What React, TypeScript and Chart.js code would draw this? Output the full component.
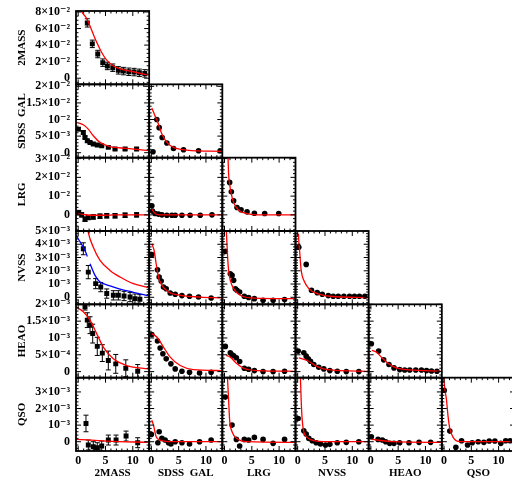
import { useEffect, useRef } from "react";
import { Chart, registerables } from "chart.js";

Chart.register(...registerables);

const FONT = "'Liberation Serif', 'DejaVu Serif', serif";

const SURVEYS = ["2MASS", "SDSS  GAL", "LRG", "NVSS", "HEAO", "QSO"];

const X_MIN = -0.4;
const X_MAX = 13;
const X_TICKS = [0, 5, 10];
const X_TICK_LABELS = ["0", "5", "10"];

const Y_MIN = [-0.0074, -0.0015, -0.0086, -0.00053, -0.00018, -0.00056];
const Y_MAX = [0.0812, 0.0206, 0.0305, 0.005, 0.002, 0.00386];
const Y_MAJOR = [0.02, 0.005, 0.01, 0.001, 0.0005, 0.001];
const Y_MINOR = [0.005, 0.001, 0.002, 0.0002, 0.0001, 0.0002];

const Y_TICKS_2MASS = [0, 0.02, 0.04, 0.06, 0.08];
const Y_LABELS_2MASS = ["0", "2×10⁻²", "4×10⁻²", "6×10⁻²", "8×10⁻²"];
const Y_TICKS_SDSS = [0, 0.005, 0.01, 0.015, 0.02];
const Y_LABELS_SDSS = ["0", "5×10⁻³", "10⁻²", "1.5×10⁻²", "2×10⁻²"];
const Y_TICKS_LRG = [0, 0.01, 0.02, 0.03];
const Y_LABELS_LRG = ["0", "10⁻²", "2×10⁻²", "3×10⁻²"];
const Y_TICKS_NVSS = [0, 0.001, 0.002, 0.003, 0.004, 0.005];
const Y_LABELS_NVSS = ["0", "10⁻³", "2×10⁻³", "3×10⁻³", "4×10⁻³", "5×10⁻³"];
const Y_TICKS_HEAO = [0, 0.0005, 0.001, 0.0015, 0.002];
const Y_LABELS_HEAO = ["0", "5×10⁻⁴", "10⁻³", "1.5×10⁻³", "2×10⁻³"];
const Y_TICKS_QSO = [0, 0.001, 0.002, 0.003];
const Y_LABELS_QSO = ["0", "10⁻³", "2×10⁻³", "3×10⁻³"];

const Y_TICKS = [Y_TICKS_2MASS, Y_TICKS_SDSS, Y_TICKS_LRG, Y_TICKS_NVSS, Y_TICKS_HEAO, Y_TICKS_QSO];
const Y_LABELS = [Y_LABELS_2MASS, Y_LABELS_SDSS, Y_LABELS_LRG, Y_LABELS_NVSS, Y_LABELS_HEAO, Y_LABELS_QSO];

// ---- data: points [angle, w, error], model curves [angle, w] ----
const PTS_2MASS_2MASS = [[1.67, 0.0668, 0.005], [2.59, 0.0415, 0.0045], [3.58, 0.0292, 0.0045], [4.5, 0.0188, 0.0045], [5.34, 0.0148, 0.0045], [6.33, 0.0127, 0.0045], [7.36, 0.0095, 0.0045], [8.28, 0.0086, 0.0045], [9.27, 0.0078, 0.0045], [10.24, 0.0074, 0.0045], [11.2, 0.0065, 0.0045], [12.2, 0.0058, 0.0045]];
const FIT_2MASS_2MASS = [[0.2, 0.088], [0.64, 0.0804], [1.56, 0.0722], [2.48, 0.0578], [3.39, 0.0434], [4.31, 0.0311], [5.23, 0.0218], [6.46, 0.0148], [7.67, 0.0114], [10.1, 0.0078], [12.9, 0.0037]];

const PTS_SDSS_2MASS = [[0.05, 0.0071, 0.0005], [0.94, 0.0061, 0.0005], [1.25, 0.0046, 0.0004], [1.67, 0.0036, 0.0004], [2.17, 0.0031, 0.0003], [2.77, 0.0026, 0.0003], [3.5, 0.0023, 0.0003], [4.31, 0.0021, 0.0003], [5.52, 0.0016, 0.0003], [6.75, 0.0011, 0.0003], [8.59, 0.0011, 0.0003], [10.7, 0.0011, 0.0003]];
const FIT_SDSS_2MASS = [[0.02, 0.009], [0.94, 0.0084], [1.85, 0.0071], [2.77, 0.0051], [4.0, 0.0031], [5.83, 0.0018], [8.9, 0.0013], [12.9, 0.0006]];

const PTS_SDSS_SDSS = [[0.3, 0.0003], [1.0, 0.01], [1.43, 0.00755], [1.98, 0.00457], [2.84, 0.0029], [4.06, 0.00128], [5.89, 0.0009], [8.64, 0.0006], [12.6, 0.0006]];
const FIT_SDSS_SDSS = [[0.09, 0.0135], [0.7, 0.011], [1.3, 0.0086], [1.93, 0.0056], [2.84, 0.0031], [4.06, 0.0016], [6.5, 0.0008], [12.9, 0.0004]];

const PTS_LRG_2MASS = [[0.1, 0.0012, 0.0012], [0.64, 0.0, 0.0012], [1.25, -0.0023, 0.0012], [1.85, -0.0014, 0.0012], [2.77, -0.0011, 0.0012], [4.0, -0.0007, 0.0012], [5.23, -0.0005, 0.0012], [6.75, -0.0005, 0.0012], [8.59, -0.0002, 0.0012], [10.7, 0.0, 0.0012]];
const FIT_LRG_2MASS = [[0.0, 0.0005], [1.0, 0.0003], [2.0, -0.0002], [4.0, -0.0002], [7.0, 0.0], [13, 0.0]];

const PTS_LRG_SDSS = [[0.09, 0.0048], [0.2, 0.0021], [0.7, 0.0007], [1.3, 0.0004], [1.93, 0.0], [2.84, -0.0002], [3.76, -0.0002], [4.37, -0.0002], [5.6, -0.0002], [7.1, -0.0002], [8.95, -0.0002], [11.1, 0.0]];
const FIT_LRG_SDSS = [[0.09, 0.003], [0.7, 0.0007], [1.5, 0.0], [13, 0.0]];

const PTS_LRG_LRG = [[0.94, 0.0173], [1.25, 0.0123], [1.67, 0.0075], [2.29, 0.0039], [3.03, 0.0027], [4.13, 0.0016], [5.47, 0.0009], [7.36, 0.0007], [9.93, 0.0007]];
const FIT_LRG_LRG = [[0.55, 0.035], [0.64, 0.0306], [0.75, 0.0218], [0.94, 0.0164], [1.25, 0.011], [1.67, 0.0066], [2.59, 0.0025], [4.13, 0.0007], [6.0, 0.0], [13, 0.0]];

const PTS_NVSS_2MASS = [[0.94, 0.00366, 0.00045], [1.85, 0.0019, 0.0005], [3.2, 0.00103, 0.00038], [4.13, 0.00077, 0.00035], [5.23, 0.00028, 0.00035], [6.44, 0.00015, 0.00035], [7.36, 0.00015, 0.00035], [8.4, 0.0001, 0.00035], [9.5, 0.00002, 0.00035], [10.4, -0.0001, 0.00035], [11.3, -0.00015, 0.00035]];
const FIT_NVSS_2MASS = [[1.6, 0.0056], [1.85, 0.0049], [2.77, 0.00378], [4.0, 0.00278], [5.83, 0.00203], [7.67, 0.00153], [10.1, 0.00103], [12.9, 0.00073]];
const BLUE_NVSS_2MASS_A = [[-0.4, 0.0047], [0.02, 0.0044], [1.25, 0.00353], [1.67, 0.00308]];
const BLUE_NVSS_2MASS_B = [[2.17, 0.00253], [3.08, 0.00165], [4.0, 0.00115], [4.6, 0.00103], [5.83, 0.00086], [7.67, 0.00062], [10.1, 0.00038], [12.9, 0.0001]];

const PTS_NVSS_SDSS = [[0.09, 0.00323], [1.12, 0.00208], [1.43, 0.00153], [1.8, 0.00123], [2.22, 0.00077], [2.72, 0.00065], [3.45, 0.00032], [4.37, 0.00023], [5.6, 0.00013], [6.99, 0.00008], [8.64, 0.00002], [10.95, -0.00005]];
const FIT_NVSS_SDSS = [[0.09, 0.00404], [0.51, 0.00353], [0.88, 0.00253], [1.3, 0.00153], [1.93, 0.0009], [3.15, 0.0004], [5.36, 0.00015], [9.0, 0.00002], [12.9, -0.00005]];

const PTS_NVSS_LRG = [[0.15, 0.00346], [1.06, 0.00178], [1.38, 0.00165], [1.67, 0.00128], [1.98, 0.00065], [2.29, 0.00053], [2.77, 0.0004], [3.63, 0.00008], [4.42, -0.00002], [5.47, -0.0001], [7.06, -0.00023], [8.9, -0.00023], [11.0, -0.00017]];
const FIT_NVSS_LRG = [[0.25, 0.0056], [0.33, 0.00504], [0.57, 0.00303], [0.75, 0.00203], [1.06, 0.00128], [1.67, 0.00065], [2.9, 0.00015], [4.73, -0.00005], [9.0, -0.0001], [13, -0.0001]];

const PTS_NVSS_NVSS = [[0.2, 0.00378], [1.56, 0.00248], [2.53, 0.00053], [3.58, 0.00035], [4.5, 0.00023], [5.6, 0.00013], [6.51, 0.00008], [7.43, 0.00008], [8.46, 0.00008], [9.5, 0.00008], [10.4, 0.00008], [11.3, 0.00008], [12.3, 0.00008]];
const FIT_NVSS_NVSS = [[0.15, 0.0048], [0.2, 0.00429], [0.39, 0.00328], [0.64, 0.00203], [1.12, 0.00128], [2.04, 0.00065], [3.58, 0.00028], [6.0, 0.00008], [13, -0.00002]];

const PTS_HEAO_2MASS = [[1.25, 0.00193, 0.0001], [1.67, 0.00153, 0.00022], [2.17, 0.00138, 0.00025], [2.66, 0.00113, 0.00028], [3.5, 0.00075, 0.00027], [4.42, 0.00055, 0.00025], [5.52, 0.00033, 0.00028], [6.88, 0.00023, 0.00028], [8.72, 0.0001, 0.00025], [10.9, 0.00001, 0.0002]];
const FIT_HEAO_2MASS = [[-0.4, 0.00192], [0.94, 0.00178], [2.17, 0.00153], [3.39, 0.00113], [4.6, 0.00073], [6.44, 0.00038], [8.9, 0.00018], [12.9, 0.00008]];

const PTS_HEAO_SDSS = [[0.09, 0.0011], [1.12, 0.00091], [1.61, 0.0007], [2.11, 0.00053], [2.72, 0.00038], [3.58, 0.00023], [4.37, 0.00008], [5.6, 0.00001], [6.99, -0.00002], [8.83, -0.00004], [10.95, -0.00002]];
const FIT_HEAO_SDSS = [[0.09, 0.00113], [1.0, 0.00103], [2.22, 0.00073], [3.45, 0.00043], [5.28, 0.00018], [7.73, 0.00006], [12.9, 0.00003]];

const PTS_HEAO_LRG = [[0.15, 0.00075], [1.06, 0.00056], [1.38, 0.0005], [1.67, 0.00047], [2.17, 0.00041], [2.77, 0.0003], [3.63, 0.0001], [4.42, 0.00007], [5.47, 0.00003], [7.06, 0.0], [8.9, 0.0], [11.0, 0.00001]];
const FIT_HEAO_LRG = [[0.33, 0.00048], [1.06, 0.00043], [2.29, 0.00023], [3.5, 0.0001], [5.96, 0.00003], [13, 0.00001]];

const PTS_HEAO_NVSS = [[0.09, 0.00061], [1.12, 0.00056], [1.56, 0.00046], [1.93, 0.00038], [2.35, 0.00031], [2.95, 0.00021], [3.87, 0.00013], [4.79, 0.00008], [5.89, 0.00003], [7.25, 0.00001], [8.9, 0.0], [11.2, 0.0]];
const FIT_HEAO_NVSS = [[0.2, 0.00041], [1.74, 0.00033], [3.58, 0.00015], [5.41, 0.00006], [13, 0.00001]];

const PTS_HEAO_HEAO = [[0.09, 0.00083], [1.43, 0.00061], [2.35, 0.00035], [3.32, 0.00021], [4.24, 0.00011], [5.28, 0.00006], [6.2, 0.00005], [7.12, 0.00005], [8.22, 0.00005], [9.27, 0.00005], [10.2, 0.00003], [11.1, 0.00002], [12.1, 0.00001]];
const FIT_HEAO_HEAO = [[0.2, 0.00063], [1.0, 0.00058], [1.93, 0.00043], [3.14, 0.00025], [4.68, 0.00011], [7.12, 0.00005], [12.9, 0.00001]];

const PTS_QSO_2MASS = [[1.43, 0.0011, 0.0005], [1.85, -0.0002, 0.0003], [2.77, -0.0003, 0.0003], [3.5, -0.00036, 0.0003], [4.31, -0.00026, 0.0003], [5.52, 0.0001, 0.0003], [6.94, 0.0001, 0.0003], [8.77, 0.00034, 0.0003], [10.9, -0.00006, 0.0003]];
const FIT_QSO_2MASS = [[-0.4, 0.00014], [2.5, 0.0001], [5.23, 0.00004], [13, -0.00004]];

const PTS_QSO_SDSS = [[0.0, 0.00044], [1.19, -0.00006], [1.43, 0.0006], [1.93, 0.0002], [2.53, 0.0001], [3.14, -0.00006], [3.58, -0.00014], [4.37, 0.0], [5.6, -0.00006], [6.99, -0.00014], [8.83, 0.0], [10.95, 0.0001]];
const FIT_QSO_SDSS = [[0.09, 0.0013], [0.39, 0.001], [0.88, 0.0003], [1.61, 0.0001], [4.0, 0.0], [12.9, 0.0]];

const PTS_QSO_LRG = [[0.15, 0.00269], [1.38, 0.001], [2.17, 0.00014], [2.77, -0.00026], [3.63, 0.00014], [4.42, 0.0001], [5.47, 0.00026], [7.06, 0.00014], [8.9, -0.0001], [11.0, 0.00014]];
const FIT_QSO_LRG = [[0.5, 0.0041], [0.57, 0.00369], [0.75, 0.0025], [0.94, 0.0013], [1.38, 0.0006], [2.29, 0.0002], [4.13, 0.0], [13, -0.00004]];

const PTS_QSO_NVSS = [[0.09, 0.0014], [1.12, 0.00066], [1.56, 0.00046], [2.04, 0.0002], [2.66, 0.00006], [3.39, -0.00006], [4.18, -0.00014], [5.1, -0.0002], [5.89, -0.00016], [7.25, -0.00006], [8.9, -0.00004], [11.2, 0.0]];
const FIT_QSO_NVSS = [[0.45, 0.0041], [0.51, 0.0038], [0.64, 0.0025], [0.83, 0.0013], [1.12, 0.0006], [1.74, 0.00026], [2.95, 0.00006], [5.41, 0.0], [13, 0.0]];

const PTS_QSO_HEAO = [[0.09, 0.0003], [1.32, 0.00014], [2.11, 0.0001], [2.72, 0.0], [3.45, -0.0001], [4.24, -0.0001], [5.28, -0.00006], [6.99, -0.00006], [8.83, -0.00004], [10.95, -0.00004]];
const FIT_QSO_HEAO = [[0.09, 0.00014], [4.06, 0.0], [12.9, -0.00004]];

const PTS_QSO_QSO = [[0.02, 0.0031], [1.06, 0.00064], [2.17, -0.00034], [3.21, 0.00006], [4.31, -0.0002], [5.16, -0.00006], [6.26, 0.0], [7.3, -0.00004], [8.28, 0.00004], [9.32, 0.00004], [10.4, -0.0001], [11.3, 0.00006], [12.1, 0.00006]];
const FIT_QSO_QSO = [[-0.05, 0.0041], [0.02, 0.0036], [0.46, 0.0025], [0.75, 0.0015], [1.06, 0.0008], [1.67, 0.00026], [2.9, 0.0], [13, 0.0]];

type Panel = { r: number; c: number; pts: number[][]; fit: number[][]; blue?: number[][][] };

const PANELS: Panel[] = [
  { r: 0, c: 0, pts: PTS_2MASS_2MASS, fit: FIT_2MASS_2MASS },
  { r: 1, c: 0, pts: PTS_SDSS_2MASS, fit: FIT_SDSS_2MASS },
  { r: 1, c: 1, pts: PTS_SDSS_SDSS, fit: FIT_SDSS_SDSS },
  { r: 2, c: 0, pts: PTS_LRG_2MASS, fit: FIT_LRG_2MASS },
  { r: 2, c: 1, pts: PTS_LRG_SDSS, fit: FIT_LRG_SDSS },
  { r: 2, c: 2, pts: PTS_LRG_LRG, fit: FIT_LRG_LRG },
  { r: 3, c: 0, pts: PTS_NVSS_2MASS, fit: FIT_NVSS_2MASS, blue: [BLUE_NVSS_2MASS_A, BLUE_NVSS_2MASS_B] },
  { r: 3, c: 1, pts: PTS_NVSS_SDSS, fit: FIT_NVSS_SDSS },
  { r: 3, c: 2, pts: PTS_NVSS_LRG, fit: FIT_NVSS_LRG },
  { r: 3, c: 3, pts: PTS_NVSS_NVSS, fit: FIT_NVSS_NVSS },
  { r: 4, c: 0, pts: PTS_HEAO_2MASS, fit: FIT_HEAO_2MASS },
  { r: 4, c: 1, pts: PTS_HEAO_SDSS, fit: FIT_HEAO_SDSS },
  { r: 4, c: 2, pts: PTS_HEAO_LRG, fit: FIT_HEAO_LRG },
  { r: 4, c: 3, pts: PTS_HEAO_NVSS, fit: FIT_HEAO_NVSS },
  { r: 4, c: 4, pts: PTS_HEAO_HEAO, fit: FIT_HEAO_HEAO },
  { r: 5, c: 0, pts: PTS_QSO_2MASS, fit: FIT_QSO_2MASS },
  { r: 5, c: 1, pts: PTS_QSO_SDSS, fit: FIT_QSO_SDSS },
  { r: 5, c: 2, pts: PTS_QSO_LRG, fit: FIT_QSO_LRG },
  { r: 5, c: 3, pts: PTS_QSO_NVSS, fit: FIT_QSO_NVSS },
  { r: 5, c: 4, pts: PTS_QSO_HEAO, fit: FIT_QSO_HEAO },
  { r: 5, c: 5, pts: PTS_QSO_QSO, fit: FIT_QSO_QSO },
];

function buildDatasets() {
  const ds: any[] = [];
  for (const p of PANELS) {
    const common = { xAxisID: "x" + p.c, yAxisID: "y" + p.r, row: p.r, col: p.c };
    const line = (arr: number[][], color: string) => ({
      ...common,
      type: "scatter",
      data: arr.map(([x, y]) => ({ x, y })),
      showLine: true,
      borderColor: color,
      backgroundColor: color,
      borderWidth: 1.3,
      pointRadius: 0,
      fill: false,
      cubicInterpolationMode: "monotone",
    });
    ds.push(line(p.fit, "#ff0000"));
    if (p.blue) p.blue.forEach((seg) => ds.push(line(seg, "#0000ff")));
    ds.push({
      ...common,
      type: "scatter",
      data: p.pts.map(([x, y]) => ({ x, y })),
      errs: p.pts.map((q) => q[2] || 0),
      pointStyle: p.c === 0 ? "rect" : "circle",
      pointRadius: p.c === 0 ? 3.5 : 2.8,
      backgroundColor: "#000",
      borderColor: "#000",
      borderWidth: 0,
    });
  }
  return ds;
}

const panelPlugin = {
  id: "panels",
  beforeDatasetDraw(chart: any, args: any) {
    const ds: any = chart.data.datasets[args.index];
    const xs = chart.scales["x" + ds.col];
    const ys = chart.scales["y" + ds.row];
    const ctx = chart.ctx;
    ctx.save();
    ctx.beginPath();
    ctx.rect(xs.left, ys.top, xs.right - xs.left, ys.bottom - ys.top);
    ctx.clip();
    if (ds.errs) {
      ctx.strokeStyle = "#000";
      ctx.lineWidth = 1;
      ds.data.forEach((pt: any, i: number) => {
        const e = ds.errs[i];
        if (!e) return;
        const px = xs.getPixelForValue(pt.x);
        const y1 = ys.getPixelForValue(pt.y - e);
        const y2 = ys.getPixelForValue(pt.y + e);
        ctx.beginPath();
        ctx.moveTo(px, y1);
        ctx.lineTo(px, y2);
        ctx.moveTo(px - 2.5, y1);
        ctx.lineTo(px + 2.5, y1);
        ctx.moveTo(px - 2.5, y2);
        ctx.lineTo(px + 2.5, y2);
        ctx.stroke();
      });
    }
  },
  afterDatasetDraw(chart: any) {
    chart.ctx.restore();
  },
  afterDatasetsDraw(chart: any) {
    const ctx = chart.ctx;
    ctx.save();
    ctx.strokeStyle = "#000";
    for (let r = 0; r < 6; r++) {
      for (let c = 0; c <= r; c++) {
        const xs = chart.scales["x" + c];
        const ys = chart.scales["y" + r];
        const L = xs.left, R = xs.right, T = ys.top, B = ys.bottom;
        ctx.lineWidth = 1;
        ctx.beginPath();
        for (let v = Math.ceil(X_MIN); v < X_MAX - 0.01; v++) {
          const px = xs.getPixelForValue(v);
          const len = v % 5 === 0 ? 5 : 2.5;
          ctx.moveTo(px, B);
          ctx.lineTo(px, B - len);
          ctx.moveTo(px, T);
          ctx.lineTo(px, T + len);
        }
        const step = Y_MINOR[r];
        const k0 = Math.ceil(Y_MIN[r] / step - 1e-6);
        const k1 = Math.floor(Y_MAX[r] / step + 1e-6);
        const ratio = Math.round(Y_MAJOR[r] / step);
        for (let k = k0; k <= k1; k++) {
          const py = ys.getPixelForValue(k * step);
          const len = ((k % ratio) + ratio) % ratio === 0 ? 5 : 2.5;
          ctx.moveTo(L, py);
          ctx.lineTo(L + len, py);
          ctx.moveTo(R, py);
          ctx.lineTo(R - len, py);
        }
        ctx.stroke();
        ctx.lineWidth = 1.8;
        ctx.strokeRect(L, T, R - L, B - T);
      }
    }
    ctx.restore();
  },
};

function buildScales() {
  const scales: any = {};
  const tickFont = { family: FONT, size: 12, weight: "bold" as const };
  const titleFont = { family: FONT, size: 11, weight: "bold" as const };
  SURVEYS.forEach((name, c) => {
    scales["x" + c] = {
      type: "linear",
      position: "bottom",
      stack: "cols",
      stackWeight: 1,
      weight: c,
      min: X_MIN,
      max: X_MAX,
      grid: { display: false, drawTicks: false },
      border: { display: false },
      ticks: {
        autoSkip: false,
        maxRotation: 0,
        padding: 3,
        color: "#000",
        font: tickFont,
        callback: (_v: any, i: number) => X_TICK_LABELS[i],
      },
      afterBuildTicks: (s: any) => {
        s.ticks = X_TICKS.map((v) => ({ value: v }));
      },
      afterFit: (s: any) => {
        s.height = 28;
        s.paddingLeft = 0;
        s.paddingRight = 0;
        s.paddingTop = 0;
        s.paddingBottom = 0;
      },
      title: { display: true, text: name, color: "#000", font: titleFont, padding: { top: 0, bottom: -1 } },
    };
  });
  SURVEYS.forEach((name, r) => {
    scales["y" + r] = {
      type: "linear",
      position: "left",
      stack: "rows",
      stackWeight: 1,
      weight: 5 - r,
      min: Y_MIN[r],
      max: Y_MAX[r],
      grid: { display: false, drawTicks: false },
      border: { display: false },
      ticks: {
        autoSkip: false,
        padding: 6,
        color: "#000",
        font: tickFont,
        callback: (_v: any, i: number) => Y_LABELS[r][i],
      },
      afterBuildTicks: (s: any) => {
        s.ticks = Y_TICKS[r].map((v) => ({ value: v }));
      },
      afterFit: (s: any) => {
        s.width = 76;
        s.paddingLeft = 0;
        s.paddingRight = 0;
        s.paddingTop = 0;
        s.paddingBottom = 0;
      },
      title: { display: true, text: name, color: "#000", font: titleFont, padding: { top: 15.5, bottom: 0 } },
    };
  });
  return scales;
}

export default function App() {
  const ref = useRef<HTMLCanvasElement>(null);
  useEffect(() => {
    if (!ref.current) return;
    const chart = new Chart(ref.current, {
      type: "scatter",
      data: { datasets: buildDatasets() },
      options: {
        animation: false,
        responsive: false,
        devicePixelRatio: 1,
        events: [],
        layout: { padding: { left: 0, top: 11, right: 5, bottom: 0 } },
        plugins: { legend: { display: false }, tooltip: { enabled: false } },
        scales: buildScales(),
      },
      plugins: [panelPlugin],
    } as any);
    return () => chart.destroy();
  }, []);
  return (
    <div style={{ position: "absolute", left: 0, top: 0, width: 512, height: 479, overflow: "hidden", background: "#fff" }}>
      <canvas ref={ref} width={520} height={479} style={{ display: "block", width: 520, height: 479 }} />
    </div>
  );
}
